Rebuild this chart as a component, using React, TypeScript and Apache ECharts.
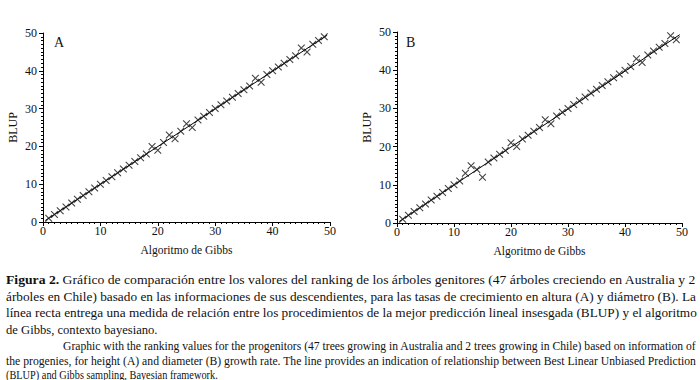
import React, { useEffect, useRef } from "react";
import * as echarts from "echarts";

const gibbsRank = [1, 2, 3, 4, 5, 6, 7, 8, 9, 10, 11, 12, 13, 14, 15, 16, 17, 18, 19, 20, 21, 22, 23, 24, 25, 26, 27, 28, 29, 30, 31, 32, 33, 34, 35, 36, 37, 38, 39, 40, 41, 42, 43, 44, 45, 46, 47, 48, 49];
const blupA = [1, 2, 3, 4, 5, 6, 7, 8, 9, 10, 11, 12, 13, 14, 15, 16, 17, 18, 20, 19, 21, 23, 22, 24, 26, 25, 27, 28, 29, 30, 31, 32, 33, 34, 35, 36, 38, 37, 39, 40, 41, 42, 43, 44, 46, 45, 47, 48, 49];
const blupB = [1, 2, 3, 4, 5, 6, 7, 8, 9, 10, 11, 13, 15, 14, 12, 16, 17, 18, 19, 21, 20, 22, 23, 24, 25, 27, 26, 28, 29, 30, 31, 32, 33, 34, 35, 36, 37, 38, 39, 40, 41, 43, 42, 44, 45, 46, 47, 49, 48];
const fitLineA = [[0.4, 0.4], [49.5, 49.4]];
const fitLineB = [[0.4, 0.4], [49.6, 49.3]];
const panelLabels = ["A", "B"];
const axisNameX = "Algoritmo de Gibbs";
const axisNameY = "BLUP";

const captionEs = [
  "Gráfico de comparación entre los valores del ranking de los árboles genitores (47 árboles creciendo en Australia y 2",
  "árboles en Chile) basado en las informaciones de sus descendientes, para las tasas de crecimiento en altura (A) y diámetro (B). La",
  "línea recta entrega una medida de relación entre los procedimientos de la mejor predicción lineal insesgada (BLUP) y el algoritmo",
  "de Gibbs, contexto bayesiano.",
];
const captionEn = [
  "Graphic with the ranking values for the progenitors (47 trees growing in Australia and 2 trees growing in Chile) based on information of",
  "the progenies, for height (A) and diameter (B) growth rate. The line provides an indication of relationship between Best Linear Unbiased Prediction",
  "(BLUP) and Gibbs sampling, Bayesian framework.",
];

const FONT = "'Liberation Serif', 'Times New Roman', serif";
const CROSS = "path://M0,1L1,0L5,4L9,0L10,1L6,5L10,9L9,10L5,6L1,10L0,9L4,5Z";

function measure(text: string, size: number, weight = "normal") {
  const c = document.createElement("canvas").getContext("2d")!;
  c.font = `${weight} ${size}px 'Liberation Serif'`;
  return c.measureText(text).width;
}

export default function App() {
  const ref = useRef<HTMLDivElement>(null);
  useEffect(() => {
    if (!ref.current) return;
    const chart = echarts.init(ref.current, null, { renderer: "svg" });

    const pairs = (ys: number[]) => gibbsRank.map((x, i) => [x, ys[i]]);

    const mkX = (gi: number) => ({
      type: "value" as const,
      gridIndex: gi,
      min: 0,
      max: 50,
      interval: 10,
      name: axisNameX,
      nameLocation: "middle" as const,
      nameGap: 22,
      nameTextStyle: { fontFamily: FONT, fontSize: 11.5, color: "#111" },
      axisLine: { show: true, onZero: false, lineStyle: { color: "#000", width: 1 } },
      axisTick: { show: true, length: 4, lineStyle: { color: "#000" } },
      minorTick: { show: true, splitNumber: 10, length: 2, lineStyle: { color: "#000" } },
      axisLabel: { fontFamily: FONT, fontSize: 12, color: "#111", margin: 3 },
      splitLine: { show: false },
    });
    const mkY = (gi: number) => ({
      type: "value" as const,
      gridIndex: gi,
      min: 0,
      max: 50,
      interval: 10,
      name: axisNameY,
      nameLocation: "middle" as const,
      nameGap: 24,
      nameRotate: 90,
      nameTextStyle: { fontFamily: FONT, fontSize: 12, color: "#111" },
      axisLine: { show: true, onZero: false, lineStyle: { color: "#000", width: 1 } },
      axisTick: { show: true, length: 4, lineStyle: { color: "#000" } },
      minorTick: { show: true, splitNumber: 10, length: 2, lineStyle: { color: "#000" } },
      axisLabel: { fontFamily: FONT, fontSize: 12, color: "#111", margin: 6 },
      splitLine: { show: false },
    });

    const scatter = (gi: number, ys: number[]) => ({
      type: "scatter" as const,
      xAxisIndex: gi,
      yAxisIndex: gi,
      data: pairs(ys),
      symbol: CROSS,
      symbolSize: 7.5,
      itemStyle: { color: "#111" },
      z: 3,
    });
    const line = (gi: number, d: number[][]) => ({
      type: "line" as const,
      xAxisIndex: gi,
      yAxisIndex: gi,
      data: d,
      symbol: "none",
      lineStyle: { color: "#000", width: 1 },
      z: 2,
    });

    const graphics: any[] = [];
    graphics.push({ type: "text", x: 54, y: 42, style: { text: panelLabels[0], font: `14px ${FONT}`, fill: "#111", verticalAlign: "middle", textVerticalAlign: "middle" } });
    graphics.push({ type: "text", x: 406, y: 42, style: { text: panelLabels[1], font: `14px ${FONT}`, fill: "#111", verticalAlign: "middle", textVerticalAlign: "middle" } });

    const esSize = 13;
    const esY = [280, 296.5, 313, 329.5];
    captionEs.forEach((t, i) => {
      const left = 6;
      const right = 697;
      let natural: number;
      let text: string;
      let rich: any = undefined;
      if (i === 0) {
        natural = measure("Figura 2. ", esSize, "bold") + measure(t, esSize);
        text = "{b|Figura 2.} {n|" + t + "}";
        rich = {
          b: { fontFamily: FONT, fontSize: esSize, fontWeight: "bold", fill: "#111" },
          n: { fontFamily: FONT, fontSize: esSize, fill: "#111" },
        };
      } else {
        natural = measure(t, esSize);
        text = t;
      }
      const justify = i < 3;
      const sx = justify ? (right - left) / natural : 0.97;
      graphics.push({
        type: "text",
        x: left,
        y: esY[i],
        scaleX: sx,
        style: {
          text,
          rich,
          font: `${esSize}px ${FONT}`,
          fill: "#111",
          verticalAlign: "middle",
          textVerticalAlign: "middle",
        },
      });
    });

    const enSize = 12;
    const enY = [345.5, 360.5, 374.5];
    captionEn.forEach((t, i) => {
      const left = i === 0 ? 63 : 6;
      const right = 697;
      const natural = measure(t, enSize);
      const justify = i < 2;
      const sx = justify ? (right - left) / natural : 0.86;
      graphics.push({
        type: "text",
        x: left,
        y: enY[i],
        scaleX: sx,
        style: {
          text: t,
          font: `${enSize}px ${FONT}`,
          fill: "#111",
          verticalAlign: "middle",
          textVerticalAlign: "middle",
        },
      });
    });

    chart.setOption({
      animation: false,
      backgroundColor: "#fff",
      grid: [
        { left: 43, top: 33, width: 287, height: 189 },
        { left: 397, top: 32, width: 285, height: 191 },
      ],
      xAxis: [mkX(0), mkX(1)],
      yAxis: [mkY(0), mkY(1)],
      series: [line(0, fitLineA), scatter(0, blupA), line(1, fitLineB), scatter(1, blupB)],
      graphic: graphics,
    });
    return () => chart.dispose();
  }, []);
  return <div ref={ref} style={{ position: "fixed", left: 0, top: 0, width: 700, height: 380 }} />;
}
